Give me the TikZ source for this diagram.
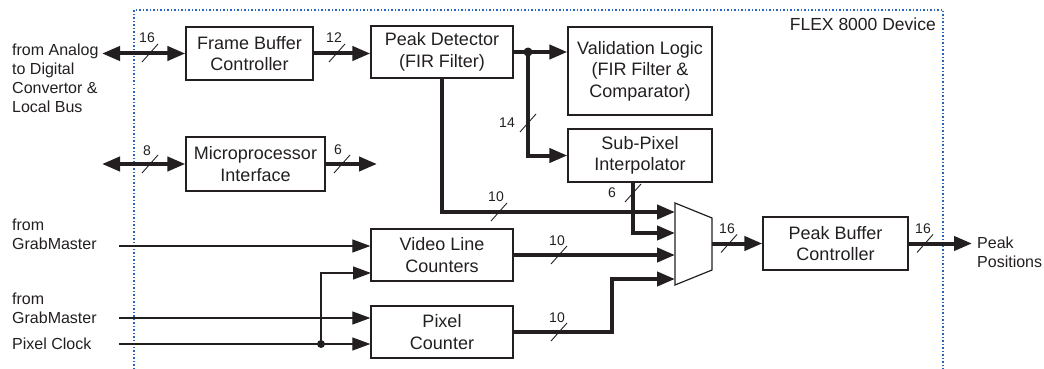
\documentclass[tikz,border=0pt]{standalone}
\usepackage{fontspec}
\setmainfont{Liberation Sans}
\usetikzlibrary{arrows.meta,calc}
\definecolor{ink}{RGB}{35,31,32}
\definecolor{flexblue}{RGB}{40,100,185}
\begin{document}
\begin{tikzpicture}[x=1pt,y=-1pt,
  box/.style={draw=ink, line width=1.3pt, align=center, inner sep=0pt,
    font=\fontsize{18}{21.5}\selectfont, text=ink},
  lbl/.style={align=left, anchor=west, inner sep=0pt,
    font=\fontsize{16}{19}\selectfont, text=ink},
  num/.style={inner sep=0pt, font=\fontsize{14}{16}\selectfont, text=ink},
  bus/.style={draw=ink, line width=4pt, -{Triangle[length=18pt,width=14pt]}},
  bibus/.style={draw=ink, line width=4pt, {Triangle[length=18pt,width=14pt]}-{Triangle[length=18pt,width=14pt]}},
  sig/.style={draw=ink, line width=1.2pt, -{Triangle[length=18pt,width=13pt]}},
  sigline/.style={draw=ink, line width=1.2pt},
  busline/.style={draw=ink, line width=4pt},
  border/.style={draw=flexblue, line width=1.2pt, dash pattern=on 1.5pt off 2pt},
  slash/.pic={\draw[ink, line width=0.9pt] (-8,9) -- (8,-9);}
]
\useasboundingbox (0,0) rectangle (1044,369);

% device border
\draw[border] (134,369) -- (134,10) -- (943,10) -- (943,369);
\node[inner sep=0pt, anchor=east, font=\fontsize{17.5}{20}\selectfont, text=ink] (flex) at (936,24) {FLEX 8000 Device};

% boxes
\node[box, minimum width=127pt, minimum height=53pt] (fbc) at (249.5,53.5) {Frame Buffer\\Controller};
\node[box, minimum width=139pt, minimum height=54pt] (mpi) at (255.5,164) {Microprocessor\\Interface};
\node[box, minimum width=142pt, minimum height=52pt] (pd) at (442,52) {Peak Detector\\(FIR Filter)};
\node[box, minimum width=144pt, minimum height=88pt] (vl) at (640,71) {Validation Logic\\(FIR Filter \&\\Comparator)};
\node[box, minimum width=144pt, minimum height=53pt] (sp) at (640,155.5) {Sub-Pixel\\Interpolator};
\node[box, minimum width=142pt, minimum height=52pt] (vlc) at (442,255) {Video Line\\Counters};
\node[box, minimum width=142pt, minimum height=52pt] (pc) at (442,332) {Pixel\\Counter};
\node[box, minimum width=145pt, minimum height=53pt] (pbc) at (835.5,243.5) {Peak Buffer\\Controller};

% multiplexer
\coordinate (mxa) at (675,203);
\coordinate (mxb) at (712,218);
\coordinate (mxc) at (712,270);
\coordinate (mxd) at (675,285);
\draw[ink, line width=1.2pt, line join=miter] (mxa) -- (mxb) -- (mxc) -- (mxd) -- cycle;
\coordinate (m1) at (675,212);
\coordinate (m2) at (675,233);
\coordinate (m3) at (675,255);
\coordinate (m4) at (675,279);
\coordinate (mo) at (712,243.5);

% outer labels
\node[lbl] (adc) at (12,78.5) {from Analog\\to Digital\\Convertor \&\\Local Bus};
\node[lbl] (gm1) at (12,234) {from\\GrabMaster};
\node[lbl] (gm2) at (12,308) {from\\GrabMaster};
\node[lbl] (pclk) at (12,344) {Pixel Clock};
\node[lbl] (pkp) at (977,252) {Peak\\Positions};

% buses top
\coordinate (in16) at (102,53.5);
\draw[bibus] (in16) -- (fbc.west);
\pic at (150,53) {slash};
\node[num] (n16a) at (147,37.5) {16};

\draw[bus] (fbc.east) -- (fbc.east -| pd.west);
\pic at (337,53) {slash};
\node[num] (n12) at (334,38) {12};

\coordinate (in8) at (102,164);
\draw[bibus] (in8) -- (mpi.west);
\pic at (150,164) {slash};
\node[num] (n8) at (147,151) {8};

\coordinate (out6) at (377,164);
\draw[bus] (mpi.east) -- (out6);
\pic at (342,164) {slash};
\node[num] (n6a) at (338,150) {6};

% peak detector outputs
\coordinate (br) at (528,52);
\draw[bus] (pd.east) -- (pd.east -| vl.west);
\draw[bus] (br) |- (sp.west);
\fill[ink] (br) circle (4.5);
\pic at (528,123) {slash};
\node[num] (n14) at (507,123) {14};

\draw[bus] (pd.south) |- (m1);
\pic at (499,212) {slash};
\node[num] (n10a) at (496,197) {10};

\coordinate (sx) at (633,0);
\draw[bus] (sx |- sp.south) |- (m2);
\pic at (633,193) {slash};
\node[num] (n6b) at (612,193) {6};

\draw[bus] (vlc.east) -- (m3);
\pic at (559,255) {slash};
\node[num] (n10b) at (557,241) {10};

\coordinate (pcx) at (612,332);
\draw[bus] (pc.east) -- (pcx) |- (m4);
\pic at (559,332) {slash};
\node[num] (n10c) at (557,318) {10};

\draw[bus] (mo) -- (mo -| pbc.west);
\pic at (729,243.5) {slash};
\node[num] (n16b) at (727,229) {16};

\coordinate (outp) at (972,243.5);
\draw[bus] (pbc.east) -- (outp);
\pic at (925,243.5) {slash};
\node[num] (n16c) at (923,229) {16};

% control signals
\coordinate (g1) at (119,246);
\coordinate (g2) at (119,318);
\coordinate (ck) at (119,344);
\coordinate (ckd) at (321,344);
\coordinate (vin2) at (371,273);
\draw[sig] (g1) -- (g1 -| vlc.west);
\draw[sig] (g2) -- (g2 -| pc.west);
\draw[sig] (ck) -- (ck -| pc.west);
\draw[sig] (ckd) |- (vin2);
\fill[ink] (ckd) circle (4);
\end{tikzpicture}
\end{document}
